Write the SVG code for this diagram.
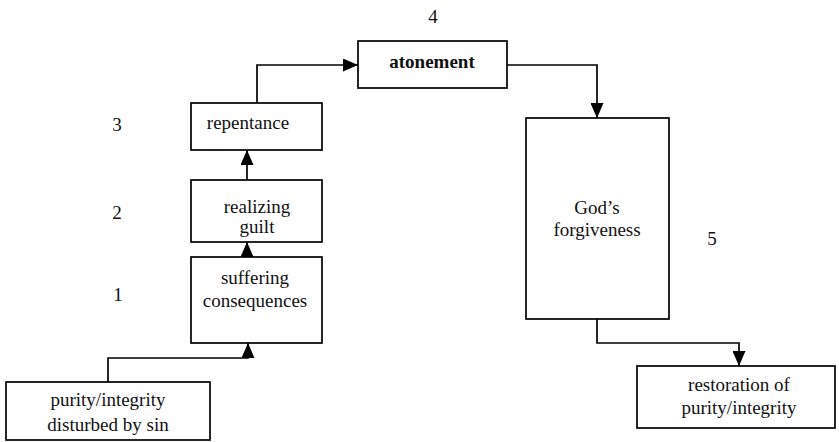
<svg xmlns="http://www.w3.org/2000/svg" width="839" height="442" viewBox="0 0 839 442">
<style>
.box{fill:#fff;stroke:#000;stroke-width:1.7}
.t{font-family:"Liberation Serif","Times New Roman",serif;font-size:19px;fill:#111;text-anchor:middle}
.b{font-weight:bold}
.c{fill:none;stroke:#000;stroke-width:1.7}
</style>
<defs>
<marker id="ah" viewBox="0 0 15 13" refX="15" refY="6.5" markerWidth="15" markerHeight="13" markerUnits="userSpaceOnUse" orient="auto">
<path d="M0,0 L15,6.5 L0,13 Z" fill="#000"/>
</marker>
</defs>
<g id="connectors">
<path class="c" d="M108,382 V358 H248 V343" marker-end="url(#ah)"/>
<path class="c" d="M247,257 V242" marker-end="url(#ah)"/>
<path class="c" d="M247,180 V150" marker-end="url(#ah)"/>
<path class="c" d="M257,103 V65 H358" marker-end="url(#ah)"/>
<path class="c" d="M507,65 H597 V118" marker-end="url(#ah)"/>
<path class="c" d="M597,319 V343 H739 V366" marker-end="url(#ah)"/>
</g>
<g id="n-purity">
<rect class="box" x="6" y="382" width="204" height="58"/>
<text class="t" x="108" y="406">purity/integrity</text>
<text class="t" x="108" y="431">disturbed by sin</text>
</g>
<g id="n-suffering">
<rect class="box" x="191" y="257" width="131" height="86"/>
<text class="t" x="255" y="284">suffering</text>
<text class="t" x="255" y="307">consequences</text>
</g>
<g id="n-realizing">
<rect class="box" x="191" y="180" width="131" height="62"/>
<text class="t" x="257" y="213">realizing</text>
<text class="t" x="257" y="233">guilt</text>
</g>
<g id="n-repentance">
<rect class="box" x="191" y="103" width="131" height="47"/>
<text class="t" x="248" y="129">repentance</text>
</g>
<g id="n-atonement">
<rect class="box" x="358" y="41" width="149" height="47"/>
<text class="t b" x="432" y="68">atonement</text>
</g>
<g id="n-forgiveness">
<rect class="box" x="526" y="118" width="143" height="201"/>
<text class="t" x="597" y="214">God’s</text>
<text class="t" x="597" y="236">forgiveness</text>
</g>
<g id="n-restoration">
<rect class="box" x="637" y="366" width="198" height="62"/>
<text class="t" x="739" y="391">restoration of</text>
<text class="t" x="739" y="414">purity/integrity</text>
</g>
<g id="labels">
<text class="t" x="118" y="301">1</text>
<text class="t" x="117" y="219">2</text>
<text class="t" x="117" y="131">3</text>
<text class="t" x="433" y="23">4</text>
<text class="t" x="712" y="245">5</text>
</g>
</svg>
